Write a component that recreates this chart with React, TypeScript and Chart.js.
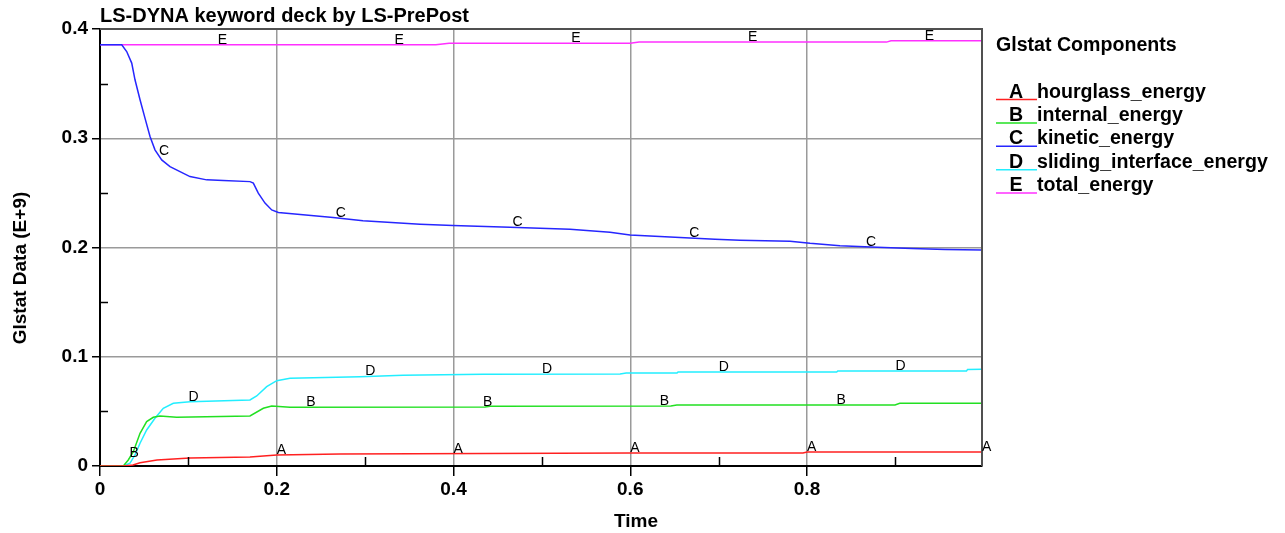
import React, { useEffect, useRef } from "react";
import { Chart, registerables } from "chart.js";

Chart.register(...registerables);

// ---- data (time in s, energy in E+9) ----
const seriesLetters = ["A", "B", "C", "D", "E"];
const seriesNames = [
  "hourglass_energy",
  "internal_energy",
  "kinetic_energy",
  "sliding_interface_energy",
  "total_energy",
];
const seriesColors = ["#ff2020", "#22e022", "#2626ff", "#22eeff", "#ff30ff"];

const tA = [0, 0.0264, 0.0373, 0.0453, 0.0645, 0.1018, 0.1697, 0.2, 0.2716, 0.6, 0.7955, 0.8, 0.998];
const vA = [0, 0, 0.0009, 0.003, 0.0055, 0.0073, 0.0082, 0.0101, 0.011, 0.0119, 0.0119, 0.0128, 0.0128];

const tB = [0, 0.0264, 0.032, 0.0377, 0.0453, 0.0528, 0.0603, 0.0679, 0.0867, 0.1697, 0.1848, 0.1943, 0.215, 0.4357, 0.4414, 0.6459, 0.6527, 0.8996, 0.9049, 0.998];
const vB = [0, 0, 0.0055, 0.0131, 0.0299, 0.0406, 0.0446, 0.0458, 0.0446, 0.0458, 0.0528, 0.0549, 0.0537, 0.054, 0.0547, 0.0549, 0.0559, 0.0559, 0.0574, 0.0574];

const tC = [0, 0.0246, 0.0302, 0.0359, 0.0396, 0.0453, 0.0509, 0.0566, 0.0622, 0.0698, 0.0792, 0.0905, 0.1018, 0.1207, 0.1395, 0.1697, 0.1735, 0.1791, 0.1867, 0.1943, 0.2018, 0.2297, 0.2637, 0.2976, 0.3621, 0.3994, 0.4639, 0.5318, 0.5771, 0.5997, 0.6563, 0.6959, 0.7242, 0.7808, 0.8034, 0.8373, 0.8792, 0.9188, 0.9562, 0.998];
const vC = [0.3855, 0.3855, 0.3794, 0.3688, 0.3535, 0.3352, 0.3184, 0.3016, 0.2894, 0.2802, 0.2741, 0.2695, 0.2649, 0.2619, 0.2613, 0.2603, 0.2589, 0.2497, 0.2406, 0.2344, 0.232, 0.2299, 0.2274, 0.2244, 0.2213, 0.2201, 0.2186, 0.2168, 0.214, 0.2115, 0.2091, 0.2076, 0.2067, 0.2058, 0.2039, 0.2017, 0.2003, 0.199, 0.1981, 0.1978];

const tD = [0, 0.0264, 0.0339, 0.0396, 0.0453, 0.0528, 0.0622, 0.0716, 0.0829, 0.1018, 0.1697, 0.1773, 0.1886, 0.2, 0.215, 0.2942, 0.3429, 0.4334, 0.5885, 0.5954, 0.6529, 0.6541, 0.8336, 0.8348, 0.9805, 0.9817, 0.998];
const vD = [0, 0, 0.0025, 0.0101, 0.0208, 0.033, 0.0437, 0.0528, 0.0574, 0.0589, 0.0604, 0.0641, 0.0726, 0.0781, 0.0803, 0.0818, 0.083, 0.084, 0.0842, 0.0851, 0.0851, 0.0861, 0.0861, 0.087, 0.087, 0.0884, 0.0886];

const tE = [0, 0.38, 0.395, 0.6, 0.61, 0.89, 0.895, 0.998];
const vE = [0.3855, 0.3855, 0.387, 0.387, 0.388, 0.388, 0.3893, 0.3893];

// curve-label positions (time) for each series
const labelTimesA = [0.2, 0.4, 0.6, 0.8, 0.998];
const labelTimesB = [0.0333, 0.2333, 0.4333, 0.6333, 0.8333];
const labelTimesC = [0.0667, 0.2667, 0.4667, 0.6667, 0.8667];
const labelTimesD = [0.1, 0.3, 0.5, 0.7, 0.9];
const labelTimesE = [0.1333, 0.3333, 0.5333, 0.7333, 0.9333];

// axis ticks
const xMajorTicks = [0, 0.2, 0.4, 0.6, 0.8];
const xMinorTicks = [0.1, 0.3, 0.5, 0.7, 0.9];
const yMajorTicks = [0, 0.1, 0.2, 0.3, 0.4];
const yMinorTicks = [0.05, 0.15, 0.25, 0.35];

const titleText = "LS-DYNA keyword deck by LS-PrePost";
const xTitle = "Time";
const yTitle = "Glstat Data (E+9)";
const legendTitle = "Glstat Components";

const FONT = '"Liberation Sans", Arial, sans-serif';

const times = [tA, tB, tC, tD, tE];
const values = [vA, vB, vC, vD, vE];
const labelTimes = [labelTimesA, labelTimesB, labelTimesC, labelTimesD, labelTimesE];

function interp(ts: number[], vs: number[], t: number): number {
  if (t <= ts[0]) return vs[0];
  for (let i = 1; i < ts.length; i++) {
    if (t <= ts[i]) {
      const f = (t - ts[i - 1]) / (ts[i] - ts[i - 1]);
      return vs[i - 1] + f * (vs[i] - vs[i - 1]);
    }
  }
  return vs[vs.length - 1];
}

function fmt(v: number): string {
  const r = Math.round(v * 10) / 10;
  return r === 0 ? "0" : String(r);
}

const decorPlugin = {
  id: "decor",
  afterDatasetsDraw(chart: any) {
    const ctx = chart.ctx;
    const xs = chart.scales.x;
    const ys = chart.scales.y;
    const area = chart.chartArea;
    ctx.save();

    // frame top & right
    ctx.strokeStyle = "#505050";
    ctx.lineWidth = 2;
    ctx.beginPath();
    ctx.moveTo(area.left, area.top);
    ctx.lineTo(area.right, area.top);
    ctx.lineTo(area.right, area.bottom);
    ctx.stroke();

    // minor ticks
    ctx.strokeStyle = "#000";
    ctx.lineWidth = 1.5;
    ctx.beginPath();
    xMinorTicks.forEach((v) => {
      const px = Math.round(xs.getPixelForValue(v)) + 0.5;
      ctx.moveTo(px, area.bottom);
      ctx.lineTo(px, area.bottom - 9);
    });
    yMinorTicks.forEach((v) => {
      const py = Math.round(ys.getPixelForValue(v)) + 0.5;
      ctx.moveTo(area.left, py);
      ctx.lineTo(area.left + 8, py);
    });
    ctx.stroke();

    // curve letters
    ctx.fillStyle = "#000";
    ctx.font = `14px ${FONT}`;
    ctx.textAlign = "left";
    ctx.textBaseline = "alphabetic";
    labelTimes.forEach((lt, si) => {
      lt.forEach((t) => {
        const v = interp(times[si], values[si], t);
        const px = xs.getPixelForValue(t);
        const py = ys.getPixelForValue(v);
        ctx.fillText(seriesLetters[si], px, py - 1);
      });
    });

    // title
    ctx.fillStyle = "#000";
    ctx.font = `bold 20px ${FONT}`;
    ctx.textAlign = "left";
    ctx.fillText(titleText, 100, 22);

    // x title
    ctx.font = `bold 19px ${FONT}`;
    ctx.textAlign = "center";
    ctx.fillText(xTitle, 636, 527);

    // y title
    ctx.save();
    ctx.translate(25.5, 268);
    ctx.rotate(-Math.PI / 2);
    ctx.textAlign = "center";
    ctx.fillText(yTitle, 0, 0);
    ctx.restore();

    // legend
    ctx.font = `bold 19.6px ${FONT}`;
    ctx.textAlign = "left";
    ctx.fillText(legendTitle, 996, 50.5);
    seriesNames.forEach((name, i) => {
      const base = 97.5 + 23.4 * i;
      ctx.fillStyle = "#000";
      ctx.textAlign = "center";
      ctx.fillText(seriesLetters[i], 1016, base);
      ctx.textAlign = "left";
      ctx.fillText(name, 1037, base);
      ctx.strokeStyle = seriesColors[i];
      ctx.lineWidth = 1.5;
      ctx.beginPath();
      ctx.moveTo(996, base + 2);
      ctx.lineTo(1037, base + 2);
      ctx.stroke();
    });

    ctx.restore();
  },
};

export default function App() {
  const ref = useRef<HTMLCanvasElement | null>(null);

  useEffect(() => {
    if (!ref.current) return;
    const datasets = seriesNames.map((name, i) => ({
      label: name,
      data: times[i].map((t, j) => ({ x: t, y: values[i][j] })),
      borderColor: seriesColors[i],
      backgroundColor: seriesColors[i],
      borderWidth: 1.5,
      pointRadius: 0,
      tension: 0,
      fill: false,
    }));
    const tickFont = { family: FONT, size: 19, weight: "bold" as const };
    const chart = new Chart(ref.current, {
      type: "line",
      data: { datasets },
      options: {
        animation: false,
        responsive: false,
        layout: { padding: { left: 0, top: 29, right: 303, bottom: 0 } },
        plugins: {
          legend: { display: false },
          tooltip: { enabled: false },
          title: { display: false },
        },
        scales: {
          x: {
            type: "linear",
            min: 0,
            max: 0.998,
            afterFit: (s: any) => {
              s.height = 67;
            },
            afterBuildTicks: (s: any) => {
              s.ticks = xMajorTicks.map((v) => ({ value: v }));
            },
            ticks: {
              callback: (v: any) => fmt(Number(v)),
              font: tickFont,
              color: "#000",
              padding: 2,
              maxRotation: 0,
              autoSkip: false,
            },
            grid: {
              color: "#9a9a9a",
              lineWidth: 1.5,
              tickColor: "#000",
              tickLength: 10,
              drawTicks: true,
            },
            border: { display: true, color: "#000", width: 2 },
          },
          y: {
            type: "linear",
            min: 0,
            max: 0.4,
            afterFit: (s: any) => {
              s.width = 100;
            },
            afterBuildTicks: (s: any) => {
              s.ticks = yMajorTicks.map((v) => ({ value: v }));
            },
            ticks: {
              callback: (v: any) => fmt(Number(v)),
              font: tickFont,
              color: "#000",
              padding: 4,
              autoSkip: false,
            },
            grid: {
              color: "#9a9a9a",
              lineWidth: 1.5,
              tickColor: "#000",
              tickLength: 8,
              drawTicks: true,
            },
            border: { display: true, color: "#000", width: 2 },
          },
        },
      },
      plugins: [decorPlugin],
    });
    return () => chart.destroy();
  }, []);

  return (
    <div style={{ position: "absolute", left: 0, top: 0, width: 1285, height: 533, background: "#fff" }}>
      <canvas ref={ref} width={1285} height={533} style={{ display: "block" }} />
    </div>
  );
}
